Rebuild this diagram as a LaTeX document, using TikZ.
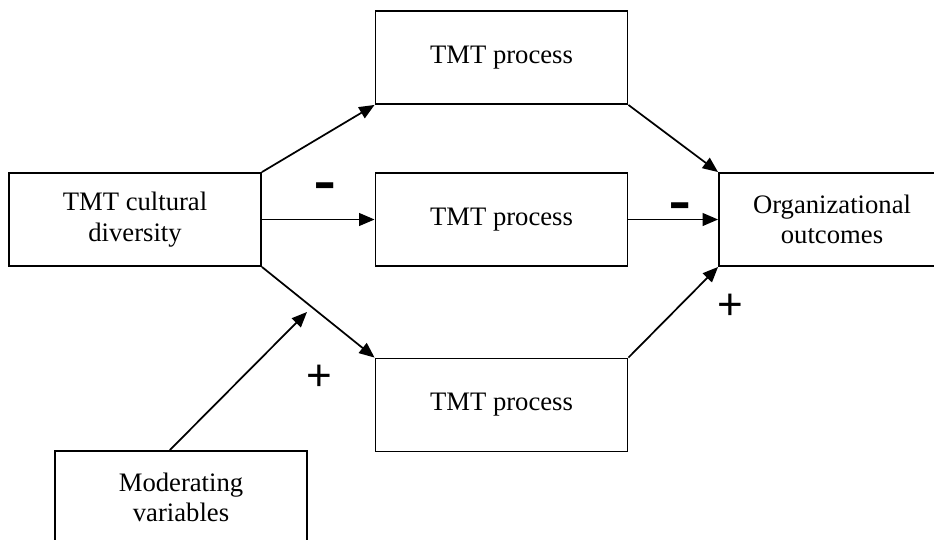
\documentclass[tikz,border=0pt]{standalone}
\usepackage{fontspec}
\setmainfont{Liberation Serif}
\newfontfamily\signfont{Liberation Sans}
\usetikzlibrary{arrows.meta,calc,positioning}

\begin{document}
\begin{tikzpicture}[
  x=0.75pt, y=-0.75pt,
  font=\fontsize{20}{23}\selectfont,
  >={Triangle[length=11.5pt,width=9.5pt]},
  box/.style={draw=black, line width=1.4pt, align=center, inner sep=0pt,
    minimum width=189pt, minimum height=69.75pt},
  link/.style={->, black, line width=1.3pt},
  minus/.style={font=\signfont\bfseries\fontsize{26}{26}\selectfont, inner sep=0pt},
  plus/.style={font=\signfont\fontsize{33}{33}\selectfont, inner sep=0pt}
]
\useasboundingbox (0,0) rectangle (934,539);
\clip (0,0) rectangle (934,539);

% Boxes.
\node[box] (div) at (135,219.5) {TMT cultural\\diversity};
\node[box] (ptop) at (501.5,57.5) {TMT process};
\node[box] (pmid) at (501.5,219.5) {TMT process};
\node[box] (pbot) at (501.5,405) {TMT process};
\node[box, minimum width=169.5pt] (out) at (832,219.5) {Organizational\\outcomes};
\node[box] (mod) at (181,497.5) {Moderating\\variables};

% Paths diversity -> process -> outcomes.
\draw[link] (div.north east) -- (ptop.south west);
\draw[link] (div.east) -- (pmid.west);
\draw[link] (div.south east) -- (pbot.north west);
\draw[link] (ptop.south east) -- (out.north west);
\draw[link] (pmid.east) -- (out.west);
\draw[link] (pbot.north east) -- (out.south west);

% Moderator onto the lower path.
\coordinate (modtip) at (307,312);
\draw[link] ($(mod.north west)!0.456!(mod.north east)$) -- (modtip);

% Signs.
\node[minus] (m1) at (325,192) {\scalebox{1}[1.7]{–}};
\node[minus] (m2) at (680,212) {\scalebox{1}[1.7]{–}};
\node[plus] (p1) at (319,378) {+};
\node[plus] (p2) at (730,307) {+};

\end{tikzpicture}
\end{document}
